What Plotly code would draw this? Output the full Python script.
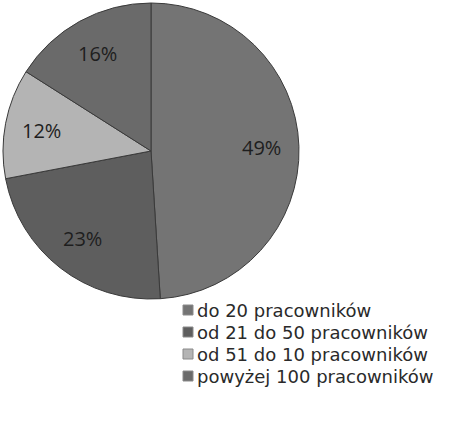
import math
import plotly.graph_objects as go

# Struktura przedsiębiorstw według liczby pracowników
categories = [
    "do 20 pracowników",
    "od 21 do 50 pracowników",
    "od 51 do 10 pracowników",
    "powyżej 100 pracowników",
]
shares = [49, 23, 12, 16]
colors = ["#747474", "#5e5e5e", "#b4b4b4", "#6a6a6a"]

W, H = 457, 421
cx, cy, r = 151, 151, 148

fig = go.Figure(
    go.Pie(
        labels=categories,
        values=shares,
        sort=False,
        direction="clockwise",
        rotation=0,
        marker=dict(colors=colors, line=dict(color="#3a3a3a", width=1)),
        textinfo="none",
        hoverinfo="label+percent",
        showlegend=False,
        domain=dict(
            x=[(cx - r) / W, (cx + r) / W],
            y=[1 - (cy + r) / H, 1 - (cy - r) / H],
        ),
    )
)

# percentage labels placed at the middle angle of each slice
total = sum(shares)
cum = 0
for v in shares:
    mid = (cum + v / 2) / total * 2 * math.pi
    cum += v
    rr = 0.75 * r
    px = cx + rr * math.sin(mid)
    py = cy - rr * math.cos(mid)
    fig.add_annotation(
        x=px / W, y=1 - py / H, xref="paper", yref="paper",
        xanchor="center", yanchor="middle",
        text=f"{v}%", showarrow=False,
        font=dict(family="Open Sans", size=20, color="#1e1e1e"),
    )

# legend: colour squares with category names, stacked below-right of the pie
leg_x, leg_y0, leg_step, box = 183, 310, 22, 10
for i, (name, col) in enumerate(zip(categories, colors)):
    yc = leg_y0 + i * leg_step
    fig.add_shape(
        type="rect", xref="paper", yref="paper",
        x0=leg_x / W, x1=(leg_x + box) / W,
        y0=1 - (yc + box / 2) / H, y1=1 - (yc - box / 2) / H,
        fillcolor=col, line=dict(color="#8a8a8a", width=1),
    )
    fig.add_annotation(
        x=(leg_x + box + 3) / W, y=1 - yc / H, xref="paper", yref="paper",
        xanchor="left", yanchor="middle", borderpad=0,
        text=name, showarrow=False,
        font=dict(family="DejaVu Sans", size=18, color="#2a2a2a"),
    )

fig.update_layout(
    width=W,
    height=H,
    margin=dict(l=0, r=0, t=0, b=0),
    paper_bgcolor="white",
    plot_bgcolor="white",
    showlegend=False,
)

fig.write_html("out.html")
